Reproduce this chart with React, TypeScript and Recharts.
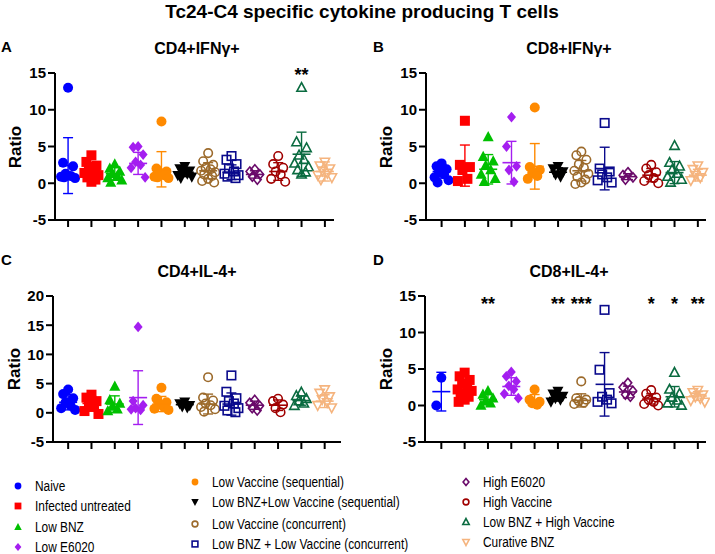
import React from 'react';
import { ComposedChart, Scatter, XAxis, YAxis, ErrorBar } from 'recharts';

const groupNames = [
  'Naive',
  'Infected untreated',
  'Low BNZ',
  'Low E6020',
  'Low Vaccine (sequential)',
  'Low BNZ+Low Vaccine (sequential)',
  'Low Vaccine (concurrent)',
  'Low BNZ + Low Vaccine (concurrent)',
  'High E6020',
  'High Vaccine',
  'Low BNZ + High Vaccine',
  'Curative BNZ',
];
const groupColors = [
  '#0000ff', '#ff0000', '#00c000', '#a41ef0', '#ff8a00', '#000000',
  '#9c6a2b', '#0a0a8c', '#6a0a6a', '#a00000', '#0a6b40', '#f5b47e',
];
const groupShapes = [
  'circle', 'square', 'triangle', 'diamond', 'circle', 'triangleDown',
  'circle', 'square', 'diamond', 'circle', 'triangle', 'triangleDown',
];
const groupFilled = [true, true, true, true, true, true, false, false, false, false, false, false];

// CD4+IFNγ+
const cd4IfnPoints = [
  [13.0, 2.8, 2.3, 1.3, 1.0, 0.9, 0.7, 0.8],
  [3.8, 2.9, 2.4, 2.0, 1.7, 1.4, 1.1, 0.8, 0.5, 0.2],
  [2.6, 2.0, 1.6, 1.3, 1.0, 0.7, 0.4, 0.1],
  [5.0, 4.9, 3.9, 2.9, 2.5, 2.1, 0.8],
  [8.4, 2.0, 1.6, 1.3, 1.1, 0.9, 0.7, 0.8],
  [2.3, 2.0, 1.7, 1.5, 1.3, 1.1, 0.9, 0.7],
  [4.1, 3.0, 2.5, 2.1, 1.9, 1.7, 1.5, 1.2, 1.0, 0.6, 0.3, 0.1],
  [3.7, 3.2, 2.6, 2.0, 1.6, 1.3, 1.1, 0.9, 0.7],
  [1.9, 1.6, 1.2, 0.9, 0.5],
  [3.7, 2.6, 2.1, 1.6, 1.2, 0.6, 0.2],
  [13.0, 5.6, 4.8, 3.8, 3.2, 2.7, 2.2, 1.8, 1.5, 1.2],
  [2.9, 2.4, 2.0, 1.7, 1.4, 1.1, 0.8, 0.5],
];
const cd4IfnMeans = [2.4, 1.7, 1.3, 2.7, 1.9, 1.5, 1.7, 1.5, 1.2, 1.6, 3.95, 1.6];
const cd4IfnSds = [3.8, 1.1, 0.9, 1.5, 2.4, 0.6, 1.1, 1.0, 0.5, 1.2, 3.0, 1.3];
const cd4IfnStarGroups = [11];
const cd4IfnStarText = ['**'];

// CD8+IFNγ+
const cd8IfnPoints = [
  [2.7, 2.3, 1.9, 1.5, 1.2, 0.8, 0.4, 0.1],
  [8.5, 2.5, 2.2, 1.8, 0.6, 0.3],
  [6.3, 3.6, 3.0, 2.4, 1.8, 1.2, 0.6, 0.2],
  [9.0, 5.0, 2.3, 1.8, 0.2],
  [10.3, 2.2, 1.8, 1.4, 1.0, 0.6],
  [2.3, 2.0, 1.6, 1.2, 0.9],
  [4.3, 3.8, 3.2, 2.6, 2.1, 1.7, 1.3, 0.9, 0.5, 0.1, -0.1],
  [8.2, 2.0, 1.6, 1.2, 0.8, 0.4, 0.1],
  [1.5, 1.1, 0.8, 0.5],
  [2.5, 2.0, 1.5, 1.1, 0.7, 0.3, 0.0],
  [5.1, 2.8, 2.3, 1.8, 1.3, 0.9, 0.5, 0.1],
  [2.4, 1.9, 1.5, 1.1, 0.8, 0.4],
];
const cd8IfnMeans = [1.6, 2.4, 1.9, 2.8, 2.3, 1.5, 1.7, 2.0, 0.9, 1.1, 1.45, 1.1];
const cd8IfnSds = [0.9, 2.8, 2.0, 2.9, 3.1, 0.6, 1.4, 2.9, 0.4, 0.9, 1.5, 0.8];
const cd8IfnStarGroups: number[] = [];
const cd8IfnStarText: string[] = [];

// CD4+IL-4+
const cd4Il4Points = [
  [4.0, 3.2, 2.5, 1.8, 1.2, 0.8, 0.5],
  [3.1, 2.6, 2.0, 1.5, 1.0, 0.3, -0.2],
  [4.5, 2.2, 1.6, 1.1, 0.6, 0.3],
  [14.7, 2.0, 1.3, 0.8, 0.5, 0.6],
  [4.3, 2.4, 1.8, 1.4, 1.0, 0.7, 0.5],
  [1.9, 1.6, 1.3, 1.1, 0.9],
  [6.1, 2.6, 2.1, 1.6, 1.3, 1.0, 0.6, 0.2],
  [6.4, 3.6, 2.5, 2.0, 1.6, 1.2, 0.8, 0.4, 0.1],
  [2.2, 1.7, 1.2, 0.8, 0.4],
  [2.4, 2.0, 1.4, 0.8, 0.1],
  [3.5, 2.9, 2.4, 2.0, 1.6, 1.2],
  [4.0, 3.4, 2.8, 2.3, 1.8, 1.3, 0.9],
];
const cd4Il4Means = [1.8, 1.6, 1.5, 2.6, 1.5, 1.4, 1.5, 1.5, 1.3, 1.3, 2.1, 2.0];
const cd4Il4Sds = [1.3, 1.2, 1.4, 4.6, 1.3, 0.4, 1.7, 1.9, 0.7, 0.9, 0.8, 1.1];
const cd4Il4StarGroups: number[] = [];
const cd4Il4StarText: string[] = [];

// CD8+IL-4+
const cd8Il4Points = [
  [3.8, 0.0],
  [4.5, 4.0, 3.5, 3.0, 2.5, 2.2, 2.0, 1.6, 1.2, 0.8, 0.5],
  [2.0, 1.5, 1.0, 0.6, 0.3, 0.0],
  [4.6, 4.0, 3.3, 2.7, 2.2, 1.6, 1.0],
  [2.2, 0.8, 0.5, 0.3, 0.1],
  [2.0, 1.6, 1.3, 1.0, 0.8, 0.5],
  [3.3, 1.0, 0.8, 0.6, 0.4, 0.2],
  [13.1, 4.9, 1.7, 1.2, 0.8, 0.5, 0.3],
  [3.1, 2.5, 2.0, 1.5, 1.2],
  [2.1, 1.6, 1.1, 0.8, 0.5, 0.2, 0.0],
  [4.5, 2.2, 1.6, 1.1, 0.7, 0.3, 0.0],
  [2.1, 1.8, 1.5, 1.2, 1.0, 0.7, 0.5],
];
const cd8Il4Means = [1.9, 2.1, 0.8, 2.6, 0.7, 1.1, 0.7, 2.9, 1.85, 0.9, 1.2, 1.3];
const cd8Il4Sds = [2.65, 1.3, 0.7, 1.2, 0.8, 0.5, 0.9, 4.35, 0.8, 0.7, 1.4, 0.6];
const cd8Il4StarGroups = [3, 6, 7, 10, 11, 12];
const cd8Il4StarText = ['**', '**', '***', '*', '*', '**'];

const FONT = '"Liberation Sans", Arial, Helvetica, sans-serif';
const spread = [0, -5, 5, -2.5, 2.5, -7, 7, -4, 4, 0, -6, 6];

function Marker({ g, x, y, s }: { g: number; x: number; y: number; s: number }) {
  const color = groupColors[g];
  const filled = groupFilled[g];
  const fill = filled ? color : 'none';
  const sw = filled ? 0 : 1.6;
  const r = filled ? s : s * 0.85;
  switch (groupShapes[g]) {
    case 'circle':
      return <circle cx={x} cy={y} r={r} fill={fill} stroke={color} strokeWidth={sw} />;
    case 'square':
      return <rect x={x - r} y={y - r} width={2 * r} height={2 * r} fill={fill} stroke={color} strokeWidth={sw} />;
    case 'triangle':
      return (
        <polygon
          points={`${x},${y - r * 1.2} ${x + r * 1.1},${y + r * 0.85} ${x - r * 1.1},${y + r * 0.85}`}
          fill={fill} stroke={color} strokeWidth={sw}
        />
      );
    case 'triangleDown':
      return (
        <polygon
          points={`${x},${y + r * 1.2} ${x + r * 1.1},${y - r * 0.85} ${x - r * 1.1},${y - r * 0.85}`}
          fill={fill} stroke={color} strokeWidth={sw}
        />
      );
    default:
      return (
        <polygon
          points={`${x},${y - r * 1.2} ${x + r},${y} ${x},${y + r * 1.2} ${x - r},${y}`}
          fill={fill} stroke={color} strokeWidth={sw}
        />
      );
  }
}

type PanelProps = {
  left: number;
  top: number;
  width: number;
  height: number;
  axisX: number;
  plotTop: number;
  plotRight: number;
  xDomain: [number, number];
  yDomain: [number, number];
  yTicks: number[];
  starY: number;
  starLift: number;
  points: number[][];
  means: number[];
  sds: number[];
  starGroups: number[];
  starText: string[];
};

function Panel(p: PanelProps) {
  const xTicks = groupNames.map((_, i) => i + 1);
  const stars = p.starGroups.map((g, i) => ({ x: g, y: p.starY, label: p.starText[i] }));
  return (
    <div style={{ position: 'absolute', left: p.left, top: p.top }}>
      <ComposedChart
        width={p.width}
        height={p.height}
        margin={{ top: p.plotTop - p.top, right: p.left + p.width - p.plotRight, bottom: 0, left: 0 }}
      >
        <XAxis
          type="number"
          dataKey="x"
          domain={p.xDomain}
          ticks={xTicks}
          interval={0}
          height={12}
          tickSize={7}
          tick={() => <g />}
          axisLine={{ stroke: '#000', strokeWidth: 2 }}
          tickLine={{ stroke: '#000', strokeWidth: 2 }}
        />
        <YAxis
          type="number"
          dataKey="y"
          domain={p.yDomain}
          ticks={p.yTicks}
          interval={0}
          width={p.axisX - p.left}
          tickSize={7}
          tickMargin={2}
          axisLine={{ stroke: '#000', strokeWidth: 2 }}
          tickLine={{ stroke: '#000', strokeWidth: 2 }}
          tick={{ fill: '#000', fontSize: 15, fontWeight: 'bold', fontFamily: FONT }}
        />
        {p.points.map((vals, g) => (
          <Scatter
            key={`pts-${g}`}
            data={vals.map((v, k) => ({ x: g + 1, y: v, k }))}
            isAnimationActive={false}
            shape={(props: any) => (
              <Marker g={g} x={props.cx + spread[props.payload.k % spread.length]} y={props.cy} s={g === 3 || g === 8 ? 4.5 : 5} />
            )}
          />
        ))}
        {p.means.map((m, g) => (
          <Scatter
            key={`mean-${g}`}
            data={[{ x: g + 1, y: m, sd: p.sds[g] }]}
            isAnimationActive={false}
            shape={(props: any) => (
              <line x1={props.cx - 9} x2={props.cx + 9} y1={props.cy} y2={props.cy} stroke={groupColors[g]} strokeWidth={1.6} />
            )}
          >
            <ErrorBar dataKey="sd" direction="y" width={5} stroke={groupColors[g]} strokeWidth={1.4} isAnimationActive={false} />
          </Scatter>
        ))}
        <Scatter
          data={stars}
          isAnimationActive={false}
          shape={(props: any) => (
            <text x={props.cx} y={props.cy + 10 - p.starLift} textAnchor="middle" fontSize={18} fontWeight="bold" fontFamily={FONT} fill="#000">
              {props.payload.label}
            </text>
          )}
        />
      </ComposedChart>
    </div>
  );
}

const legendCols = [
  { mx: 18, tx: 35, ys: [486, 506, 527, 547] },
  { mx: 195, tx: 212, ys: [482, 502, 524, 544] },
  { mx: 466, tx: 483, ys: [482, 502, 522, 542] },
];

export default function App() {
  return (
    <div style={{ position: 'absolute', left: 0, top: 0, width: 715, height: 554, background: '#fff', fontFamily: FONT, overflow: 'hidden' }}>
      <Panel
        left={0} top={0} width={340} height={232} axisX={55} plotTop={73} plotRight={334}
        xDomain={[0.44, 12.39]} yDomain={[-5, 15]} yTicks={[-5, 0, 5, 10, 15]} starY={15} starLift={2}
        points={cd4IfnPoints} means={cd4IfnMeans} sds={cd4IfnSds}
        starGroups={cd4IfnStarGroups} starText={cd4IfnStarText}
      />
      <Panel
        left={355} top={0} width={355} height={232} axisX={426} plotTop={73} plotRight={706}
        xDomain={[0.33, 12.35]} yDomain={[-5, 15]} yTicks={[-5, 0, 5, 10, 15]} starY={15} starLift={0}
        points={cd8IfnPoints} means={cd8IfnMeans} sds={cd8IfnSds}
        starGroups={cd8IfnStarGroups} starText={cd8IfnStarText}
      />
      <Panel
        left={0} top={240} width={345} height={214} axisX={53} plotTop={296} plotRight={341}
        xDomain={[0.35, 12.7]} yDomain={[-5, 20]} yTicks={[-5, 0, 5, 10, 15, 20]} starY={19} starLift={0}
        points={cd4Il4Points} means={cd4Il4Means} sds={cd4Il4Sds}
        starGroups={cd4Il4StarGroups} starText={cd4Il4StarText}
      />
      <Panel
        left={355} top={240} width={355} height={214} axisX={425} plotTop={296} plotRight={706}
        xDomain={[0.3, 12.35]} yDomain={[-5, 15]} yTicks={[-5, 0, 5, 10, 15]} starY={14.5} starLift={0}
        points={cd8Il4Points} means={cd8Il4Means} sds={cd8Il4Sds}
        starGroups={cd8Il4StarGroups} starText={cd8Il4StarText}
      />
      <svg width={715} height={554} style={{ position: 'absolute', left: 0, top: 0, pointerEvents: 'none' }}>
        <text x={362} y={18} textAnchor="middle" fontSize={19} fontWeight="bold" fontFamily={FONT}>
          Tc24-C4 specific cytokine producing T cells
        </text>
        <g fontSize={15} fontWeight="bold" fontFamily={FONT}>
          <text x={1} y={52}>A</text>
          <text x={373} y={52}>B</text>
          <text x={1} y={265}>C</text>
          <text x={373} y={265}>D</text>
        </g>
        <g fontSize={16} fontWeight="bold" fontFamily={FONT} textAnchor="middle">
          <text x={197} y={54}>CD4+IFNγ+</text>
          <text x={569} y={54}>CD8+IFNγ+</text>
          <text x={197} y={277}>CD4+IL-4+</text>
          <text x={569} y={277}>CD8+IL-4+</text>
        </g>
        <g fontSize={17} fontWeight="bold" fontFamily={FONT} textAnchor="middle">
          <text transform="translate(21,147) rotate(-90)">Ratio</text>
          <text transform="translate(392,147) rotate(-90)">Ratio</text>
          <text transform="translate(20,369) rotate(-90)">Ratio</text>
          <text transform="translate(392,369) rotate(-90)">Ratio</text>
        </g>
        {groupNames.map((name, g) => {
          const col = legendCols[Math.floor(g / 4)];
          const y = col.ys[g % 4];
          return (
            <g key={name}>
              <Marker g={g} x={col.mx} y={y} s={3.4} />
              <text transform={`translate(${col.tx},${y + 5}) scale(0.82,1)`} fontSize={14.5} fontFamily={FONT} fill="#000">
                {name}
              </text>
            </g>
          );
        })}
      </svg>
    </div>
  );
}
